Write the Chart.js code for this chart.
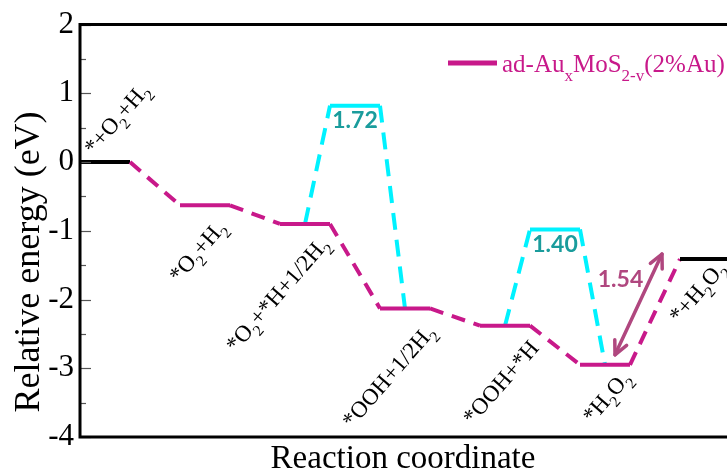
<!DOCTYPE html>
<html>
<head>
<meta charset="utf-8">
<script src="https://cdn.jsdelivr.net/npm/chart.js@4.4.1/dist/chart.umd.min.js"></script>
<style>
  html, body { margin: 0; padding: 0; background: #fff; overflow: hidden; }
  #wrap { width: 727px; height: 470px; position: relative; }
</style>
</head>
<body>
<div id="wrap"><canvas id="chart"></canvas></div>
<script>
// Reaction steps ("_" marks a subscript, "_{..}" a longer one)
const steps = ['*+O_2+H_2', '*O_2+H_2', '*O_2+*H+1/2H_2', '*OOH+1/2H_2', '*OOH+*H', '*H_2O_2', '*+H_2O_2'];
// Relative energy of each step (eV)
const energies = [0, -0.63, -0.90, -2.13, -2.38, -2.95, -1.41];
// Transition-state barriers between steps (eV)
const barriers = [
  { from: 2, to: 3, value: 1.72 },
  { from: 4, to: 5, value: 1.40 }
];
// H2O2 desorption energy
const desorption = { from: 5, to: 6, value: 1.54 };
const seriesName = 'ad-Au_xMoS_{2-v}(2%Au)';
const yTicks = [-4, -3, -2, -1, 0, 1, 2];

const MAGENTA = '#c8198a';
const CYAN = '#00f2ff';
const TEAL = '#1a9c9c';
const PLUM = '#b0477f';
const SERIF = '"Liberation Serif", "Times New Roman", serif';
const SANS = 'Lato, "Open Sans", sans-serif';

// pixel nudges for the step labels (first one sits above its level)
const labelNudge = [[14, -6], [-3, 23], [0, 21], [6, 24], [10, 23], [2, 14], [-3, 10]];
const LABEL_ANGLE = -49 * Math.PI / 180;

// level segments: each step spans +-0.25 around its index
const levelData = [];
energies.forEach((e, i) => {
  levelData.push({ x: i - 0.25, y: e }, { x: i + 0.25, y: e });
});

// transition states: leg up from level middle, plateau, leg down
const tsData = [];
barriers.forEach((b, k) => {
  const top = energies[b.from] + b.value;
  if (k) tsData.push({ x: b.from - 0.5, y: null });
  tsData.push({ x: b.from, y: energies[b.from] },
              { x: b.from + 0.25, y: top },
              { x: b.to - 0.25, y: top },
              { x: b.to, y: energies[b.to] });
});

function parseRich(s) {
  const segs = [];
  let buf = '', i = 0;
  while (i < s.length) {
    if (s[i] === '_') {
      if (buf) { segs.push({ t: buf, sub: false }); buf = ''; }
      let t;
      if (s[i + 1] === '{') { const j = s.indexOf('}', i); t = s.slice(i + 2, j); i = j + 1; }
      else { t = s[i + 1]; i += 2; }
      segs.push({ t, sub: true });
    } else { buf += s[i]; i++; }
  }
  if (buf) segs.push({ t: buf, sub: false });
  return segs;
}

function drawRich(ctx, text, x, y, size, color, align, subDrop) {
  const segs = parseRich(text);
  const subSize = size * 0.68;
  let w = 0;
  segs.forEach(s => {
    ctx.font = (s.sub ? subSize : size) + 'px ' + SERIF;
    s.w = ctx.measureText(s.t).width;
    w += s.w;
  });
  let cx = align === 'right' ? x - w : x;
  ctx.fillStyle = color;
  ctx.textAlign = 'left';
  ctx.textBaseline = 'alphabetic';
  segs.forEach(s => {
    ctx.font = (s.sub ? subSize : size) + 'px ' + SERIF;
    ctx.fillText(s.t, cx, y + (s.sub ? subDrop : 0));
    cx += s.w;
  });
}

const decorations = {
  id: 'decorations',
  afterDatasetsDraw(chart) {
    const { ctx, chartArea: a, scales: { x, y } } = chart;
    ctx.save();

    // inward tick marks on the energy axis
    ctx.strokeStyle = '#555';
    ctx.lineWidth = 1.2;
    for (let v = yTicks[0]; v <= yTicks[yTicks.length - 1] + 1e-9; v += 0.5) {
      const py = Math.round(y.getPixelForValue(v)) + 0.5;
      const len = Math.abs(v - Math.round(v)) < 1e-9 ? 11 : 6;
      ctx.beginPath();
      ctx.moveTo(a.left, py);
      ctx.lineTo(a.left + len, py);
      ctx.stroke();
    }

    // frame: top, left, bottom
    ctx.strokeStyle = '#000';
    ctx.lineWidth = 3;
    ctx.lineCap = 'square';
    ctx.beginPath();
    ctx.moveTo(a.right + 5, a.top);
    ctx.lineTo(a.left, a.top);
    ctx.lineTo(a.left, a.bottom);
    ctx.lineTo(a.right + 5, a.bottom);
    ctx.stroke();

    // step labels
    steps.forEach((s, i) => {
      const above = i === 0;
      const px = x.getPixelForValue(above ? i - 0.25 : i + 0.25) + labelNudge[i][0];
      const py = y.getPixelForValue(energies[i]) + labelNudge[i][1];
      ctx.save();
      ctx.translate(px, py);
      ctx.rotate(LABEL_ANGLE);
      drawRich(ctx, s, 0, 0, 23, '#000', above ? 'left' : 'right', 7);
      ctx.restore();
    });

    // barrier values under each transition-state plateau
    ctx.font = 'bold 23px ' + SANS;
    ctx.textAlign = 'center';
    ctx.textBaseline = 'middle';
    ctx.fillStyle = TEAL;
    barriers.forEach(b => {
      const top = energies[b.from] + b.value;
      const px = x.getPixelForValue((b.from + b.to) / 2);
      const py = y.getPixelForValue(top) + 15;
      ctx.fillText(b.value.toFixed(2), px, py);
    });

    // desorption double arrow
    const x0 = x.getPixelForValue(desorption.from + 0.1);
    const y0 = y.getPixelForValue(energies[desorption.from]) - 10;
    const x1 = x.getPixelForValue(desorption.to - 0.43);
    const y1 = y.getPixelForValue(energies[desorption.from] + desorption.value) - 5;
    ctx.strokeStyle = PLUM;
    ctx.lineWidth = 3.5;
    ctx.lineCap = 'round';
    ctx.lineJoin = 'round';
    ctx.beginPath();
    ctx.moveTo(x0, y0);
    ctx.lineTo(x1, y1);
    ctx.stroke();
    const ang = Math.atan2(y1 - y0, x1 - x0);
    const head = (tx, ty, dir) => {
      const hl = 15, spread = 0.45;
      ctx.beginPath();
      ctx.moveTo(tx - hl * Math.cos(dir - spread), ty - hl * Math.sin(dir - spread));
      ctx.lineTo(tx, ty);
      ctx.lineTo(tx - hl * Math.cos(dir + spread), ty - hl * Math.sin(dir + spread));
      ctx.stroke();
    };
    head(x1, y1, ang);
    head(x0, y0, ang + Math.PI);
    ctx.font = 'bold 23px ' + SANS;
    ctx.fillStyle = PLUM;
    ctx.textAlign = 'center';
    ctx.textBaseline = 'middle';
    ctx.fillText(desorption.value.toFixed(2), (x0 + x1) / 2 - 18, (y0 + y1) / 2 - 25);

    // legend
    ctx.strokeStyle = MAGENTA;
    ctx.lineWidth = 5;
    ctx.lineCap = 'butt';
    ctx.beginPath();
    ctx.moveTo(448, 63);
    ctx.lineTo(497, 63);
    ctx.stroke();
    drawRich(ctx, seriesName, 502, 72, 25, MAGENTA, 'left', 9);

    // axis titles
    ctx.fillStyle = '#000';
    ctx.font = '33px ' + SERIF;
    ctx.textAlign = 'center';
    ctx.textBaseline = 'alphabetic';
    ctx.fillText('Reaction coordinate', 403, 468);
    ctx.font = '36px ' + SERIF;
    ctx.save();
    ctx.translate(39, 262);
    ctx.rotate(-Math.PI / 2);
    ctx.fillText('Relative energy (eV)', 0, 0);
    ctx.restore();

    ctx.restore();
  }
};

new Chart(document.getElementById('chart'), {
  type: 'line',
  data: {
    datasets: [
      {
        label: seriesName,
        data: levelData,
        borderColor: MAGENTA,
        borderWidth: 4,
        pointRadius: 0,
        borderCapStyle: 'butt',
        borderJoinStyle: 'miter',
        segment: {
          borderColor: c => {
            const i = c.p0DataIndex;
            if (i % 2 === 0) {
              const lvl = i / 2;
              return (lvl === 0 || lvl === energies.length - 1) ? '#000' : MAGENTA;
            }
            return MAGENTA;
          },
          borderDash: c => (c.p0DataIndex % 2 === 0 ? [] : [14, 9])
        }
      },
      {
        label: 'TS',
        data: tsData,
        borderColor: CYAN,
        borderWidth: 4,
        pointRadius: 0,
        spanGaps: false,
        borderCapStyle: 'butt',
        segment: {
          borderDash: c => (c.p0.parsed.y === c.p1.parsed.y ? [] : [17, 10])
        }
      }
    ]
  },
  options: {
    responsive: true,
    maintainAspectRatio: false,
    animation: false,
    layout: { padding: { top: 22, left: 0, right: 0, bottom: 0 } },
    plugins: { legend: { display: false }, tooltip: { enabled: false } },
    scales: {
      x: {
        type: 'linear',
        min: -0.25,
        max: 6.22,
        grid: { display: false, drawTicks: false },
        border: { display: false },
        ticks: { display: false },
        afterFit: s => { s.height = 33; }
      },
      y: {
        min: yTicks[0],
        max: yTicks[yTicks.length - 1],
        grid: { display: false, drawTicks: false },
        border: { display: false },
        afterBuildTicks: s => { s.ticks = yTicks.map(v => ({ value: v })); },
        ticks: {
          color: '#000',
          padding: 6,
          font: { family: SERIF, size: 31 }
        },
        afterFit: s => { s.width = 80; }
      }
    }
  },
  plugins: [decorations]
});
</script>
</body>
</html>
